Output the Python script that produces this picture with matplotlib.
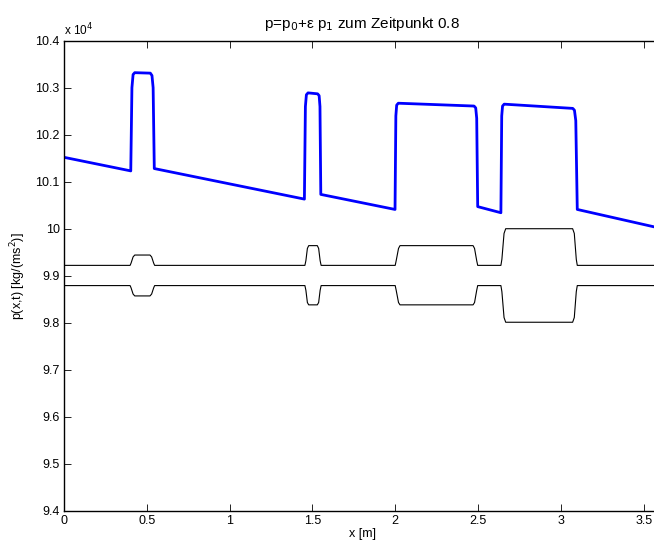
import matplotlib
matplotlib.use("Agg")
import matplotlib.pyplot as plt

plt.rcParams['font.family'] = ['Liberation Sans', 'DejaVu Sans']

# p = p0 + eps*p1, in units of 1e4 Pa
blue_x = [0, 0.404, 0.411, 0.418, 0.428, 0.522, 0.532, 0.539, 0.546,
          1.452, 1.458, 1.464, 1.474, 1.532, 1.541, 1.546, 1.551,
          1.999, 2.004, 2.009, 2.019, 2.476, 2.486, 2.492, 2.498,
          2.638, 2.643, 2.648, 2.658, 3.072, 3.082, 3.090, 3.099,
          3.6]
blue_y = [10.152, 10.123, 10.30, 10.328, 10.332, 10.331, 10.326, 10.30, 10.128,
          10.063, 10.26, 10.285, 10.289, 10.287, 10.283, 10.26, 10.073,
          10.041, 10.24, 10.263, 10.267, 10.261, 10.257, 10.235, 10.047,
          10.034, 10.24, 10.261, 10.265, 10.256, 10.252, 10.23, 10.041,
          10.001]

blk_x = [0, 0.400, 0.406, 0.418, 0.428, 0.520, 0.530, 0.542, 0.548,
         1.455, 1.461, 1.470, 1.478, 1.530, 1.538, 1.547, 1.553,
         2.000, 2.006, 2.020, 2.029, 2.470, 2.479, 2.492, 2.498,
         2.638, 2.644, 2.657, 2.667, 3.071, 3.081, 3.093, 3.099,
         3.6]
upper_y = [9.922, 9.922, 9.927, 9.940, 9.944, 9.944, 9.940, 9.927, 9.922,
           9.922, 9.932, 9.958, 9.964, 9.964, 9.958, 9.932, 9.922,
           9.922, 9.932, 9.958, 9.964, 9.964, 9.958, 9.932, 9.922,
           9.922, 9.935, 9.990, 10.000, 10.000, 9.990, 9.935, 9.922,
           9.922]
lower_y = [9.879, 9.879, 9.874, 9.861, 9.857, 9.857, 9.861, 9.874, 9.879,
           9.879, 9.869, 9.843, 9.838, 9.838, 9.843, 9.869, 9.879,
           9.879, 9.869, 9.843, 9.838, 9.838, 9.843, 9.869, 9.879,
           9.879, 9.866, 9.811, 9.801, 9.801, 9.811, 9.866, 9.879,
           9.879]

xticks = [0, 0.5, 1, 1.5, 2, 2.5, 3, 3.5]
xlabels = ['0', '0.5', '1', '1.5', '2', '2.5', '3', '3.5']
yticks = [9.4, 9.5, 9.6, 9.7, 9.8, 9.9, 10, 10.1, 10.2, 10.3, 10.4]
ylabels = ['9.4', '9.5', '9.6', '9.7', '9.8', '9.9', '10', '10.1', '10.2', '10.3', '10.4']

fig = plt.figure(figsize=(6.54, 5.45), dpi=100)
ax = fig.add_axes([0.0976, 0.0629, 0.912, 0.8624])

ax.plot(blk_x, upper_y, color='black', lw=0.8)
ax.plot(blk_x, lower_y, color='black', lw=0.8)
ax.plot(blue_x, blue_y, color='blue', lw=2.0)

ax.set_xlim(0, 3.6)
ax.set_ylim(9.4, 10.4)
ax.set_xticks(xticks)
ax.set_xticklabels(xlabels)
ax.set_yticks(yticks)
ax.set_yticklabels(ylabels)
ax.tick_params(direction='in', length=5, width=0.6, labelsize=9, top=True, right=False, pad=3)
for s in ax.spines.values():
    s.set_linewidth(1.0)

ax.set_xlabel('x [m]', fontsize=9, labelpad=1)
ax.set_ylabel('p(x,t) [kg/(ms$^2$)]', fontsize=9, labelpad=5)
ax.set_title('p=p$_0$+ε p$_1$ zum Zeitpunkt 0.8', fontsize=11, pad=9)
ax.text(0.0, 1.005, 'x 10$^4$', transform=ax.transAxes, fontsize=8.5, ha='left', va='bottom')

fig.savefig('out.png', dpi=100)
